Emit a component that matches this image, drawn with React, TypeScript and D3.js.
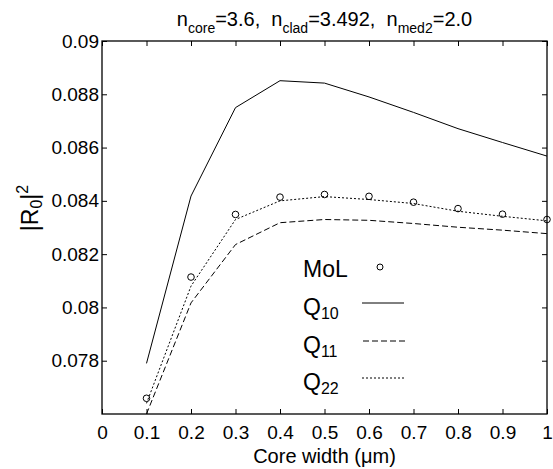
import React, { useEffect, useRef } from 'react';
import * as d3 from 'd3';

const widths = [0.1, 0.2, 0.3, 0.4, 0.5, 0.6, 0.7, 0.8, 0.9, 1.0];
const mol = [0.07659, 0.08114, 0.08349, 0.08414, 0.08424, 0.08417, 0.08395, 0.08371, 0.0835, 0.0833];
const q10 = [0.0779, 0.08418, 0.0875, 0.08851, 0.08842, 0.0879, 0.08732, 0.08671, 0.08619, 0.08568];
const q11 = [0.076, 0.08017, 0.08236, 0.08318, 0.0833, 0.08327, 0.08315, 0.08301, 0.0829, 0.08277];
const q22 = [0.0764, 0.0808, 0.0833, 0.084, 0.08416, 0.08405, 0.0839, 0.08361, 0.08342, 0.08325];
const xTicks = [0, 0.1, 0.2, 0.3, 0.4, 0.5, 0.6, 0.7, 0.8, 0.9, 1];
const yTicks = [0.078, 0.08, 0.082, 0.084, 0.086, 0.088, 0.09];

const FONT = 'Liberation Sans, Arial, Helvetica, sans-serif';

const App = () => {
  const svgRef = useRef<SVGSVGElement>(null);

  useEffect(() => {
    const W = 553, H = 469;
    const margin = { top: 41, right: 6, bottom: 55, left: 102 };
    const width = W - margin.left - margin.right;
    const height = H - margin.top - margin.bottom;

    const root = d3.select(svgRef.current);
    root.selectAll('*').remove();
    root.attr('width', W).attr('height', H)
      .style('position', 'absolute').style('left', '0px').style('top', '0px')
      .style('background', '#fff');

    const svg = root.append('g').attr('transform', `translate(${margin.left},${margin.top})`);

    const x = d3.scaleLinear().domain([0, 1]).range([0, width]);
    const y = d3.scaleLinear().domain([0.076, 0.09]).range([height, 0]);

    svg.append('clipPath').attr('id', 'plotclip')
      .append('rect').attr('width', width).attr('height', height);

    // box + inward ticks on all sides
    const tl = 5;
    const styleAxis = (g, withLabels) => {
      g.select('.domain').remove();
      g.selectAll('line').attr('stroke', '#000');
      g.selectAll('text').attr('font-family', FONT).attr('font-size', 19).attr('fill', '#000');
      if (!withLabels) g.selectAll('text').remove();
    };

    svg.append('g').attr('transform', `translate(0,${height})`)
      .call(d3.axisBottom(x).tickValues(xTicks).tickSize(-tl).tickPadding(12).tickFormat(d => d3.format('')(+d)))
      .call(g => styleAxis(g, true));
    svg.append('g')
      .call(d3.axisTop(x).tickValues(xTicks).tickSize(-tl))
      .call(g => styleAxis(g, false));
    svg.append('g')
      .call(d3.axisLeft(y).tickValues(yTicks).tickSize(-tl).tickPadding(3).tickFormat(d => d3.format('')(+(+d).toFixed(3))))
      .call(g => styleAxis(g, true));
    svg.append('g').attr('transform', `translate(${width},0)`)
      .call(d3.axisRight(y).tickValues(yTicks).tickSize(-tl))
      .call(g => styleAxis(g, false));

    svg.append('rect').attr('width', width).attr('height', height)
      .attr('fill', 'none').attr('stroke', '#000').attr('stroke-width', 1.3);

    const line = d3.line<number>().x((d, i) => x(widths[i])).y(d => y(d));
    const plot = svg.append('g').attr('clip-path', 'url(#plotclip)');

    const series = [
      { v: q10, dash: null },
      { v: q11, dash: '6,3' },
      { v: q22, dash: '2,2' },
    ];
    series.forEach(s => {
      plot.append('path').datum(s.v).attr('d', line)
        .attr('fill', 'none').attr('stroke', '#000').attr('stroke-width', 1)
        .attr('stroke-dasharray', s.dash);
    });

    svg.selectAll('.mol').data(mol).enter().append('circle')
      .attr('cx', (d, i) => x(widths[i])).attr('cy', d => y(d)).attr('r', 3.3)
      .attr('fill', 'none').attr('stroke', '#000').attr('stroke-width', 1);

    // legend
    const lg = svg.append('g').attr('font-family', FONT).attr('font-size', 23);
    const lx = 201;
    lg.append('text').attr('x', lx).attr('y', 236).text('MoL');
    lg.append('circle').attr('cx', 278).attr('cy', 226).attr('r', 3)
      .attr('fill', 'none').attr('stroke', '#000');
    const items = [
      { sub: '10', y: 274, dash: null, x1: 260, x2: 302 },
      { sub: '11', y: 312, dash: '6,3', x1: 261, x2: 305 },
      { sub: '22', y: 349, dash: '2,2', x1: 260, x2: 302 },
    ];
    items.forEach(it => {
      const t = lg.append('text').attr('x', lx).attr('y', it.y);
      t.append('tspan').text('Q');
      t.append('tspan').attr('dy', 4).attr('font-size', 16).text(it.sub);
      lg.append('line').attr('x1', it.x1).attr('x2', it.x2)
        .attr('y1', it.y - 12).attr('y2', it.y - 12)
        .attr('stroke', '#000').attr('stroke-dasharray', it.dash);
    });

    // title
    const title = root.append('text').attr('x', margin.left + width / 2).attr('y', 26)
      .attr('text-anchor', 'middle').attr('font-family', FONT).attr('font-size', 20)
      .style('white-space', 'pre');
    const parts = [['n', 'core', '=3.6,  '], ['n', 'clad', '=3.492,  '], ['n', 'med2', '=2.0']];
    parts.forEach(p => {
      title.append('tspan').text(p[0]);
      title.append('tspan').attr('dy', 7).attr('font-size', 14).text(p[1]);
      title.append('tspan').attr('dy', -7).text(p[2]);
    });

    // axis labels
    root.append('text').attr('x', margin.left + width / 2).attr('y', 463)
      .attr('text-anchor', 'middle').attr('font-family', FONT).attr('font-size', 20)
      .text('Core width (\u03bcm)');

    const yl = root.append('text')
      .attr('transform', `translate(38,208) rotate(-90)`)
      .attr('text-anchor', 'middle').attr('font-family', FONT).attr('font-size', 23);
    yl.append('tspan').text('|R');
    yl.append('tspan').attr('dy', 4).attr('font-size', 16).text('0');
    yl.append('tspan').attr('dy', -4).text('|');
    yl.append('tspan').attr('dy', -10).attr('font-size', 16).text('2');
  }, []);

  return <svg ref={svgRef}></svg>;
};

export default App;
